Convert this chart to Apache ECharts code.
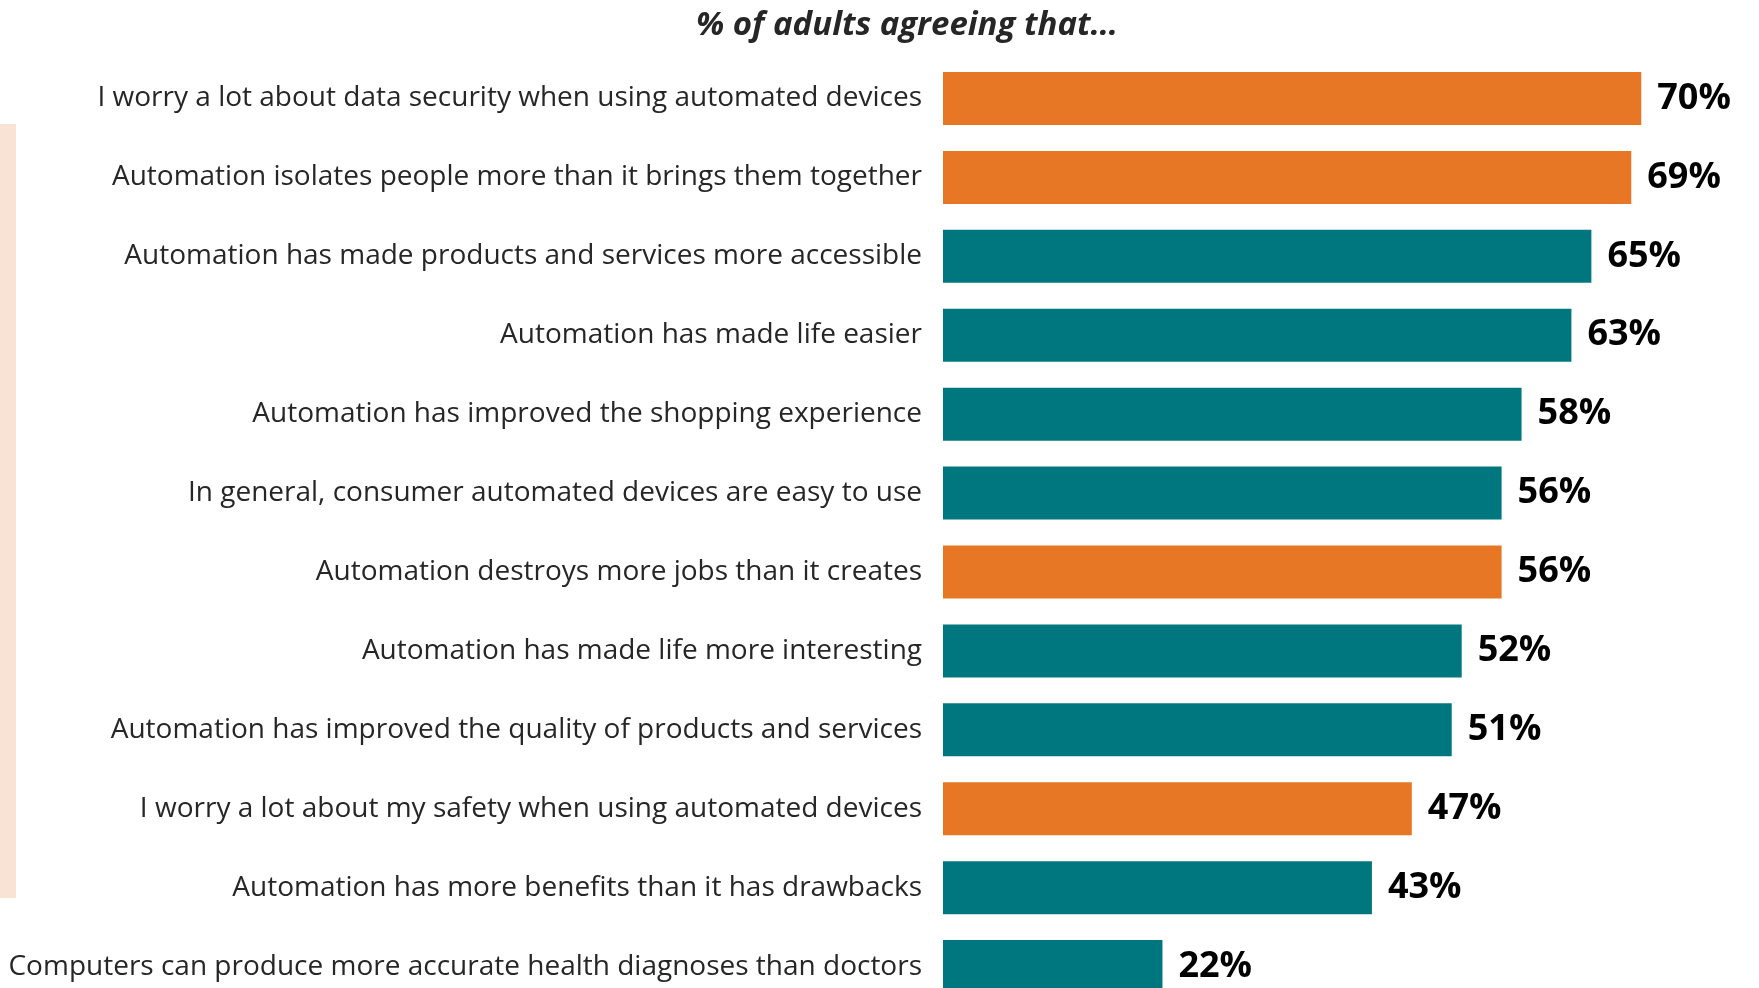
<!DOCTYPE html>
<html>
<head>
<meta charset="utf-8">
<script src="https://cdn.jsdelivr.net/npm/echarts@6/dist/echarts.min.js"></script>
<style>
  html, body { margin: 0; padding: 0; background: #ffffff; overflow: hidden; width: 1759px; height: 988px; }
  #chart { width: 1759px; height: 1006px; }
</style>
</head>
<body>
<div id="chart"></div>
<script>
const titleText = '% of adults agreeing that…';
const categories = [
  'I worry a lot about data security when using automated devices',
  'Automation isolates people more than it brings them together',
  'Automation has made products and services more accessible',
  'Automation has made life easier',
  'Automation has improved the shopping experience',
  'In general, consumer automated devices are easy to use',
  'Automation destroys more jobs than it creates',
  'Automation has made life more interesting',
  'Automation has improved the quality of products and services',
  'I worry a lot about my safety when using automated devices',
  'Automation has more benefits than it has drawbacks',
  'Computers can produce more accurate health diagnoses than doctors'
];
const values = [70, 69, 65, 63, 58, 56, 56, 52, 51, 47, 43, 22];
const groups = ['concern', 'concern', 'positive', 'positive', 'positive', 'positive',
                'concern', 'positive', 'positive', 'concern', 'positive', 'positive'];
const groupColors = { concern: '#E77724', positive: '#00777F' };

const chart = echarts.init(document.getElementById('chart'), null, { renderer: 'canvas' });
chart.setOption({
  backgroundColor: '#ffffff',
  animation: false,
  title: {
    text: titleText,
    left: 902,
    textAlign: 'center',
    top: 4,
    textStyle: {
      fontFamily: 'Open Sans',
      fontStyle: 'italic',
      fontWeight: 'bold',
      fontSize: 33,
      color: '#262626'
    }
  },
  graphic: [{
    type: 'rect',
    shape: { x: 0, y: 124, width: 16, height: 774 },
    style: { fill: '#F9E3D4' },
    silent: true
  }],
  grid: { left: 943, top: 59, right: 18, bottom: 0, containLabel: false },
  xAxis: {
    type: 'value',
    min: 0,
    max: 80,
    show: false
  },
  yAxis: {
    type: 'category',
    data: categories,
    inverse: true,
    axisLine: { show: false },
    axisTick: { show: false },
    splitLine: { show: false },
    axisLabel: {
      margin: 21,
      fontFamily: 'Open Sans',
      fontSize: 28,
      color: '#262626'
    }
  },
  series: [{
    type: 'bar',
    barWidth: 53,
    data: values.map((v, i) => ({
      value: v,
      itemStyle: { color: groupColors[groups[i]] }
    })),
    label: {
      show: true,
      position: 'right',
      distance: 16,
      formatter: '{c}%',
      fontFamily: 'Open Sans',
      fontWeight: 'bold',
      fontSize: 36,
      color: '#000000'
    }
  }]
});
</script>
</body>
</html>
